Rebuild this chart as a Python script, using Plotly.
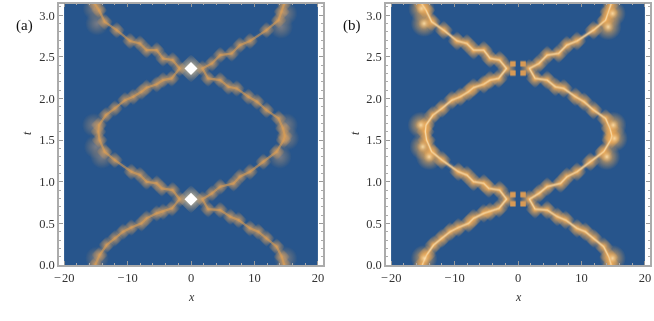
import plotly.graph_objects as go

# ridge positions, from top (t=pi) to bottom (t=0)
left_x = [-15.2, -14.5, -13.6, -11.7, -9.6, -8.05, -7.0, -5.4, -4.4, -2.9, -1.8,
          -3.05, -4.4, -5.4, -7.0, -7.8, -9.1, -10.4, -12.0, -13.4, -14.5, -14.6, -14.4, -13.6,
          -12.0, -9.4, -8.05, -7.0, -5.4, -4.6, -2.9, -1.8,
          -3.0, -4.4, -5.4, -7.0, -7.8, -9.4, -10.7, -12.0, -13.3, -14.4, -15.1]
left_t = [3.14, 3.06, 2.92, 2.82, 2.69, 2.66, 2.58, 2.58, 2.48, 2.46, 2.36,
          2.24, 2.22, 2.17, 2.13, 2.08, 2.02, 1.98, 1.88, 1.80, 1.68, 1.60, 1.50, 1.36,
          1.26, 1.12, 1.08, 1.00, 0.98, 0.92, 0.90, 0.79,
          0.68, 0.64, 0.62, 0.56, 0.50, 0.45, 0.40, 0.32, 0.24, 0.12, 0.0]
right_x = [14.7, 14.3, 13.8, 11.9, 9.3, 7.7, 6.4, 4.6, 3.3, 1.8,
           2.7, 4.6, 5.9, 7.2, 9.05, 10.4, 11.9, 13.8, 14.5, 14.8, 14.6, 13.5,
           11.4, 9.3, 7.7, 6.7, 4.6, 3.3, 1.8,
           2.7, 4.6, 6.2, 7.5, 9.3, 10.6, 11.9, 13.5, 14.3, 14.7]
right_t = [3.14, 3.04, 2.94, 2.82, 2.69, 2.64, 2.54, 2.52, 2.42, 2.36,
           2.24, 2.22, 2.14, 2.12, 2.02, 1.96, 1.86, 1.76, 1.64, 1.55, 1.50, 1.36,
           1.24, 1.12, 1.06, 0.98, 0.94, 0.86, 0.79,
           0.67, 0.66, 0.58, 0.54, 0.44, 0.40, 0.32, 0.22, 0.10, 0.0]

# broad glow where the ridges turn round
glow_x = [-15.2, -14.8, -15.3, -15.0, -14.0, -14.8, 14.9, 14.2, 15.2, 15.0, 14.0, 14.9]
glow_t = [3.08, 2.90, 1.68, 1.42, 1.30, 0.08, 3.02, 2.86, 1.52, 1.68, 1.30, 0.08]

# crossing points
cross_x = [0, 0]
cross_t = [2.36, 0.79]
# the four spots round each crossing in (b)
spot_x = [-0.8, 0.8, -0.8, 0.8, -0.8, 0.8, -0.8, 0.8]
spot_t = [2.415, 2.415, 2.305, 2.305, 0.845, 0.845, 0.735, 0.735]

y_ticks = [0, 0.5, 1, 1.5, 2, 2.5, 3]
y_labels = ['0.0', '0.5', '1.0', '1.5', '2.0', '2.5', '3.0']
x_ticks = [-20, -10, 0, 10, 20]
x_labels = ['\u2212\u200a20', '\u2212\u200a10', '0', '10', '20']

BLUE = '#27558c'
ORANGE = '#e2a050'
GREY = '#ababab'
SERIF = 'Liberation Serif'
W = 654.0
H = 321.0
CLEAR = 'rgba(226,160,80,0)'

fig = go.Figure()


def lines(xa, ya, width, color, opacity):
    for xs, ts in ((left_x, left_t), (right_x, right_t)):
        fig.add_trace(go.Scatter(
            x=xs, y=ts, mode='lines', xaxis=xa, yaxis=ya, opacity=opacity,
            line=dict(color=color, width=width),
            hoverinfo='skip', showlegend=False))


def soft(xs, ts, xa, ya, size, color, opacity, symbol='circle', edge=CLEAR):
    # radial gradient runs from the gradient colour in the middle to the marker colour at the rim
    fig.add_trace(go.Scatter(
        x=xs, y=ts, mode='markers', xaxis=xa, yaxis=ya, opacity=opacity,
        marker=dict(color=edge, size=size, symbol=symbol, line=dict(width=0),
                    gradient=dict(type='radial', color=color)),
        hoverinfo='skip', showlegend=False))


all_x = left_x + right_x
all_t = left_t + right_t

# panel (a)
soft(glow_x, glow_t, 'x', 'y', 24, '#c8a484', 0.5)
lines('x', 'y', 5, '#a8907f', 0.12)
soft(all_x, all_t, 'x', 'y', 13, '#e0a460', 0.8, 'diamond')
lines('x', 'y', 2.2, ORANGE, 0.55)
soft(cross_x, cross_t, 'x', 'y', 22, '#f0e4c0', 0.9, 'diamond')
soft(cross_x, cross_t, 'x', 'y', 10, 'white', 1, 'diamond', 'white')

# panel (b)
soft(glow_x, glow_t, 'x2', 'y2', 27, '#eab060', 0.95)
lines('x2', 'y2', 6, '#b89c80', 0.2)
soft(all_x, all_t, 'x2', 'y2', 15, '#f0ac58', 1, 'diamond')
lines('x2', 'y2', 3, '#eeb060', 0.7)
lines('x2', 'y2', 1.3, '#fff2d0', 0.6)
soft(glow_x, glow_t, 'x2', 'y2', 12, '#fff0c8', 0.7)
soft(spot_x, spot_t, 'x2', 'y2', 5.5, '#d89a55', 1, 'square', '#d89a55')

axis = dict(showgrid=False, zeroline=False, showline=True, linecolor=GREY, linewidth=1.5,
            mirror='allticks', ticks='inside', tickcolor='#999999', tickwidth=0.8,
            automargin=False, tickfont=dict(family=SERIF, size=12.5, color='#333333'),
            layer='above traces')
x_axis = dict(axis, range=[-20.8, 20.8], tickvals=x_ticks, ticktext=x_labels, ticklen=4,
              minor=dict(dtick=2, ticks='inside', ticklen=2, tickcolor='#aaaaaa', tickwidth=0.6))
y_axis = dict(axis, range=[0, 3.14], tickvals=y_ticks, ticktext=y_labels, ticklen=4,
              minor=dict(dtick=0.1, ticks='inside', ticklen=2, tickcolor='#aaaaaa', tickwidth=0.6))

top = 1 - 3.5 / H
bottom = 1 - 265 / H
fig.update_layout(
    width=W, height=H, autosize=False, margin=dict(l=0, r=0, t=0, b=0),
    paper_bgcolor='white', plot_bgcolor='white',
    xaxis=dict(x_axis, domain=[59 / W, 323 / W], anchor='y'),
    yaxis=dict(y_axis, domain=[bottom, top], anchor='x'),
    xaxis2=dict(x_axis, domain=[386 / W, 650 / W], anchor='y2'),
    yaxis2=dict(y_axis, domain=[bottom, top], anchor='x2'),
    shapes=[
        dict(type='rect', xref='x', yref='y', x0=-20, x1=20, y0=0, y1=3.14,
             fillcolor=BLUE, line=dict(width=0), layer='below'),
        dict(type='rect', xref='x2', yref='y2', x0=-20, x1=20, y0=0, y1=3.14,
             fillcolor=BLUE, line=dict(width=0), layer='below'),
    ],
)


def label(text, px, py, size=12, color='#333333', angle=0, italic=False):
    fig.add_annotation(text=text, xref='paper', yref='paper', x=px / W, y=1 - py / H,
                       showarrow=False, textangle=angle, xanchor='center', yanchor='middle',
                       font=dict(family=SERIF, size=size, color=color,
                                 style='italic' if italic else 'normal'))


label('(a)', 24, 25, 15, '#111111')
label('(b)', 352, 25, 15, '#111111')
label('x', 191, 297, 12, italic=True)
label('x', 518, 297, 12, italic=True)
label('t', 27, 133, 12, angle=-90, italic=True)
label('t', 355, 133, 12, angle=-90, italic=True)

fig.write_html("out.html", config=dict(displayModeBar=False),
               post_script="document.body.style.margin='0';document.body.style.overflow='hidden';")
